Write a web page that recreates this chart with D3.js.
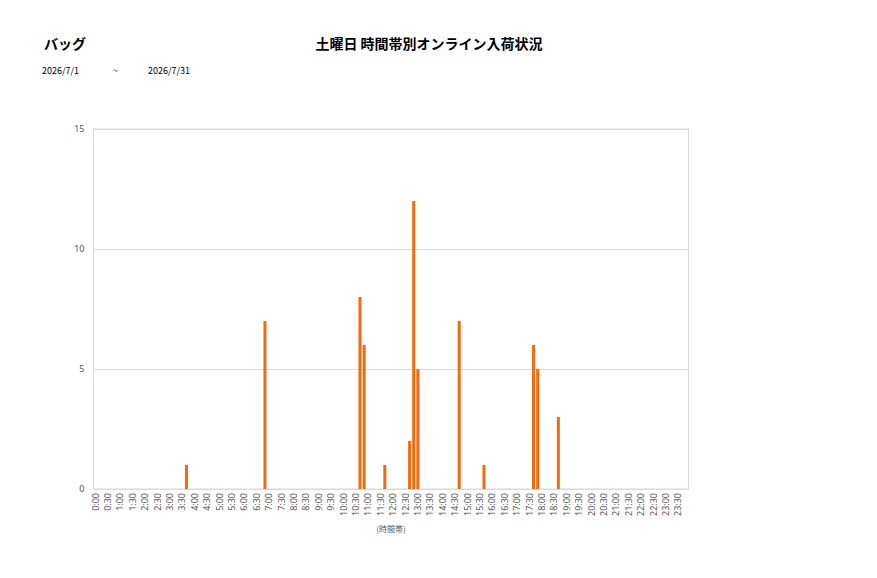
<!DOCTYPE html>
<html>
<head>
<meta charset="utf-8">
<script src="https://cdn.jsdelivr.net/npm/d3@7"></script>
<style>
  body { margin: 0; background: #fff; }
  text { font-family: "Noto Sans CJK JP", "Noto Sans", sans-serif; }
</style>
</head>
<body>
<svg id="chart" width="877" height="578"></svg>
<script>
// 10-minute slots over the day, labels every 30 min
var slots = d3.range(144).map(function (i) {
    var m = (i % 6) * 10;
    return Math.floor(i / 6) + ':' + (m < 10 ? '0' + m : '' + m);
});
var tickLabels = d3.range(48).map(function (i) {
    return Math.floor(i / 2) + ':' + (i % 2 ? '30' : '00');
});
var barTimes = ['3:40', '6:50', '10:40', '10:50', '11:40', '12:40', '12:50', '13:00', '14:40', '15:40', '17:40', '17:50', '18:40'];
var barValues = [1, 7, 8, 6, 1, 2, 12, 5, 7, 1, 6, 5, 3];
var yTicks = [0, 5, 10, 15];

var svg = d3.select('#chart');
var plotLeft = 93.5, plotRight = 688.5, plotTop = 129, plotBottom = 489;

var x = d3.scaleBand().domain(slots).range([plotLeft, plotRight]).paddingInner(0.27).paddingOuter(0.13);
var y = d3.scaleLinear().domain([0, 15]).range([plotBottom, plotTop]);

// titles
svg.append('text').attr('x', 44).attr('y', 49).attr('font-size', 14).attr('font-weight', 'bold')
    .attr('fill', '#000').text('バッグ');
svg.append('text').attr('x', 429).attr('y', 49).attr('font-size', 14).attr('font-weight', 'bold')
    .attr('text-anchor', 'middle').attr('fill', '#000').text('土曜日 時間帯別オンライン入荷状況');
svg.append('text').attr('x', 42).attr('y', 74).attr('font-size', 9).attr('fill', '#000').text('2026/7/1');
svg.append('text').attr('x', 113).attr('y', 74).attr('font-size', 9).attr('fill', '#000').text('~');
svg.append('text').attr('x', 148).attr('y', 74).attr('font-size', 9).attr('fill', '#000').text('2026/7/31');

// grid
var yAxis = d3.axisLeft(y).tickValues(yTicks).tickSize(-(plotRight - plotLeft)).tickPadding(9);
var gy = svg.append('g').attr('transform', 'translate(' + plotLeft + ',0)').call(yAxis);
gy.select('.domain').remove();
gy.selectAll('.tick line').attr('stroke', '#d9d9d9');
gy.selectAll('.tick text').attr('font-size', 9).attr('fill', '#595959')
    .style('font-family', '"Noto Sans", sans-serif');

// plot frame
svg.append('rect').attr('x', plotLeft).attr('y', plotTop)
    .attr('width', plotRight - plotLeft).attr('height', plotBottom - plotTop)
    .attr('fill', 'none').attr('stroke', '#d9d9d9');

// bars
svg.append('g').selectAll('rect').data(barTimes).enter().append('rect')
    .attr('x', function (d) { return x(d); })
    .attr('width', x.bandwidth())
    .attr('y', function (d, i) { return y(barValues[i]); })
    .attr('height', function (d, i) { return plotBottom - y(barValues[i]); })
    .attr('fill', '#f26b10');

// x axis
var xAxis = d3.axisBottom(x)
    .tickValues(slots.filter(function (d, i) { return i % 3 === 0; }))
    .tickSize(0).tickPadding(4);
var gx = svg.append('g').attr('transform', 'translate(0,' + plotBottom + ')').call(xAxis);
gx.select('.domain').attr('stroke', '#d9d9d9');
gx.selectAll('.tick text')
    .text(function (d, i) { return tickLabels[i]; })
    .attr('font-size', 9).attr('fill', '#595959')
    .style('font-family', '"Noto Sans", sans-serif')
    .attr('text-anchor', 'end')
    .attr('dy', '0.35em')
    .attr('transform', 'rotate(-90)')
    .attr('x', -4).attr('y', 0);

svg.append('text').attr('x', 391).attr('y', 532).attr('font-size', 8).attr('text-anchor', 'middle')
    .attr('fill', '#595959').text('(時間帯)');
</script>
</body>
</html>
